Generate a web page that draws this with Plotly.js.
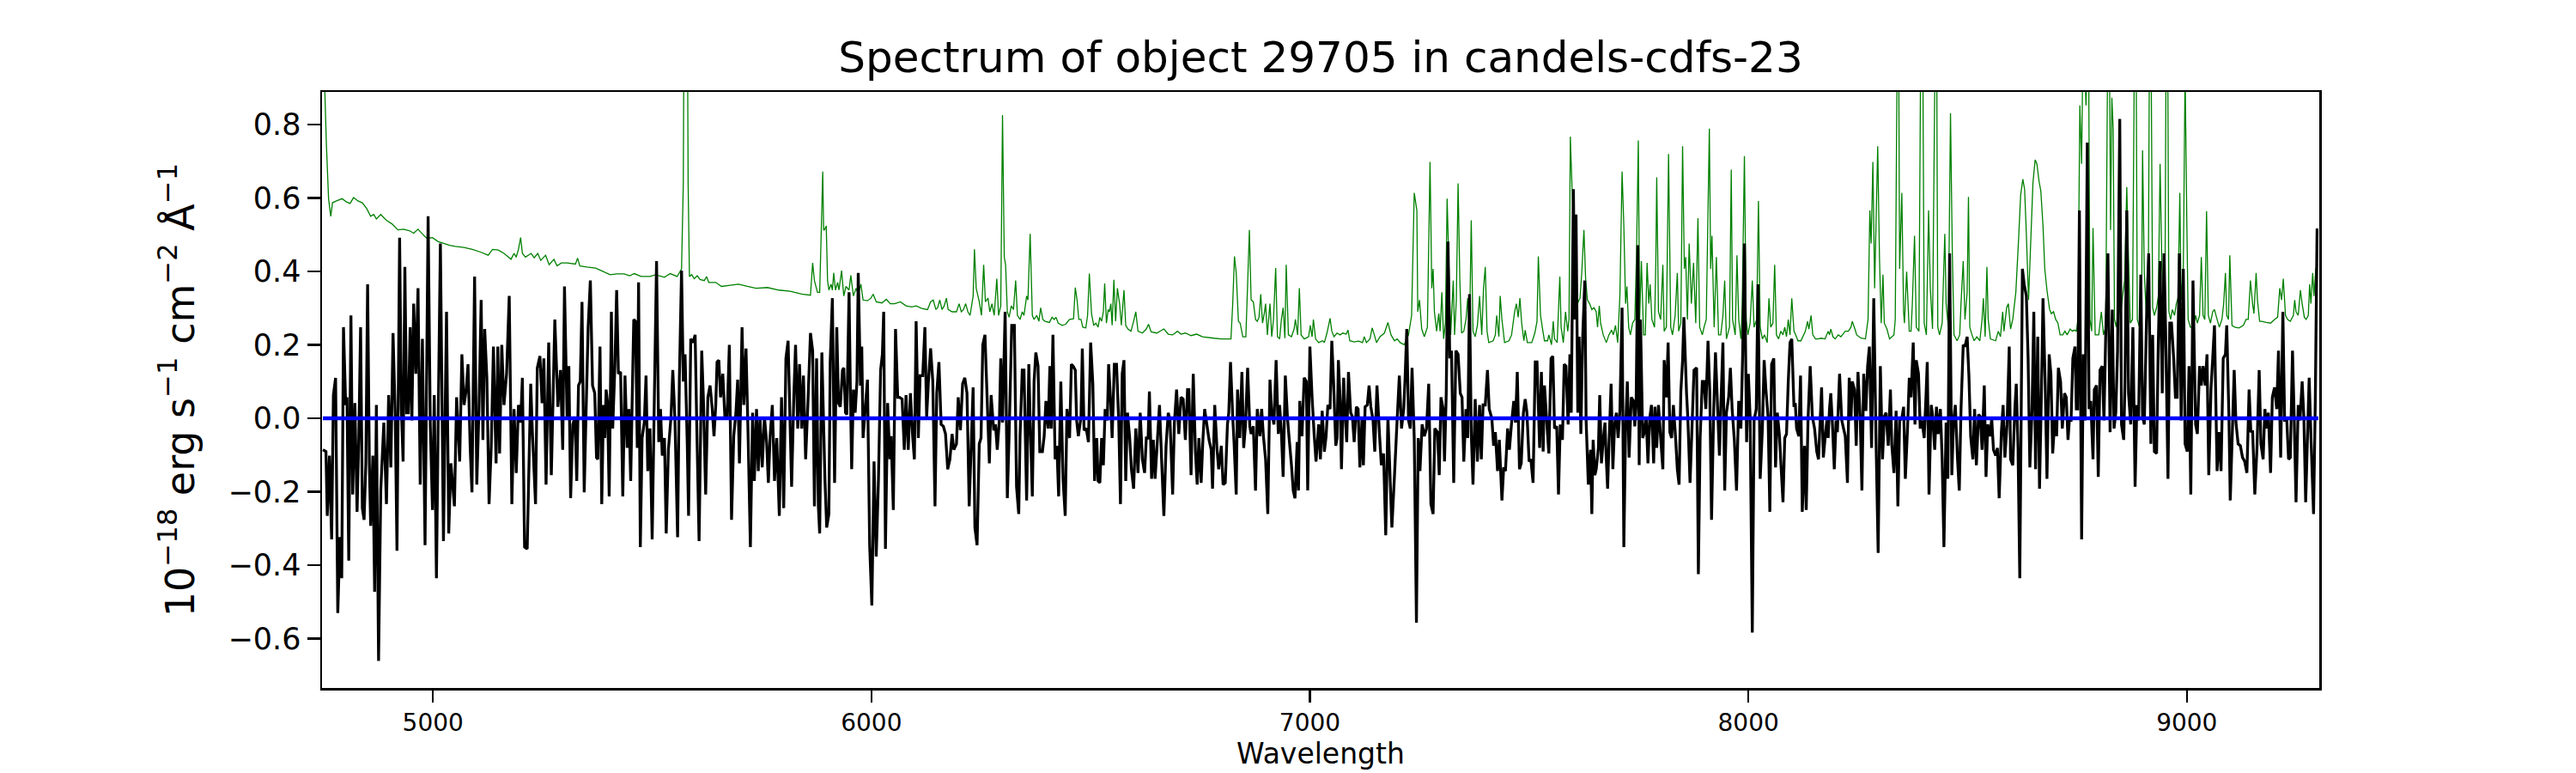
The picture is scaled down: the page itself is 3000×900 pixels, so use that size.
<!DOCTYPE html>
<html>
<head>
<meta charset="utf-8">
<script src="https://cdn.plot.ly/plotly-3.0.1.min.js"></script>
<style>html,body{margin:0;padding:0;background:#fff;}#chart{width:3000px;height:900px;}</style>
</head>
<body>
<div id="chart"></div>
<script>
const fluxWave1 = [4749,4756,4759,4764,4769,4773,4778,4783,4788,4792,4796,4801,4804,4808,4813,4817,4822,4827,4831,4835,4839,4843,4847,4851,4855,4858,4863,4867,4871,4876,4881,4888,4894,4899,4904,4909,4914,4918,4924,4928,4932,4936,4940,4944,4948,4952,4956,4961,4966,4971,4976,4982,4989,4994,4999,5003,5008,5012,5017,5024,5031,5036,5041,5049,5054,5061,5066,5071,5076,5080,5085,5089,5095,5100,5105,5110,5114,5118,5123,5128,5133,5138,5144,5148,5152,5157,5162,5168,5174,5180,5185,5190,5195,5200,5204,5209,5215,5223,5227,5234,5238,5244,5249,5253,5258,5264,5270,5278,5285,5291,5296,5300,5306,5310,5314,5319,5324];
const fluxVal1 = [-0.086,-0.091,-0.266,-0.102,-0.330,0.063,0.110,-0.531,-0.324,-0.436,0.248,0.036,0.057,-0.388,0.280,-0.208,0.041,-0.255,-0.049,0.248,-0.245,-0.277,-0.123,0.365,-0.123,-0.293,-0.102,-0.473,0.036,-0.661,-0.197,-0.012,-0.234,0.063,-0.134,0.232,0.010,-0.361,0.492,0.025,-0.118,0.412,0.015,0.015,0.248,-0.006,0.312,0.121,0.354,-0.181,0.216,-0.346,0.550,-0.022,-0.250,0.063,-0.436,-0.006,0.476,-0.335,0.290,-0.314,-0.123,-0.240,0.057,-0.118,0.174,0.036,0.078,0.147,-0.081,-0.202,0.386,-0.181,0.025,0.322,-0.059,0.243,0.110,-0.234,-0.075,0.195,-0.123,0.195,-0.096,0.200,0.036,0.121,0.333,-0.234,0.025,-0.149,0.036,-0.012,0.110,-0.351,-0.356,0.094,-0.043,-0.234,0.137,0.169,0.041,0.163,-0.181,0.206,-0.155,0.269,0.031,0.131,-0.086,0.359,0.004,0.142,-0.218,-0.017,0.004];

const fluxWave2 = [5328,5332,5336,5340,5345,5349,5354,5359,5364,5369,5373,5376,5381,5385,5389,5392,5395,5398,5402,5407,5410,5415,5419,5423,5428,5433,5438,5443,5447,5451,5454,5458,5462,5466,5469,5473,5477,5482,5486,5490,5495,5500,5505,5510,5515,5519,5523,5528,5532,5537,5543,5547,5552,5558,5562,5567,5571,5575,5580,5583,5588,5593,5598,5602,5607,5613,5617,5622,5627,5632,5637,5641,5645,5648,5652,5656,5661,5666,5671,5676,5681,5686,5691,5695,5699,5705,5709,5714,5719,5724,5729,5733,5738,5742,5746,5751,5756,5761,5765,5769,5774,5779,5784,5790,5795,5800,5805,5810,5814,5818,5823,5827,5832,5836,5841,5845,5850,5855,5861,5866,5870,5875,5879,5882,5887,5894];
const fluxVal2 = [-0.171,0.089,0.100,0.317,-0.202,0.004,0.248,0.375,0.089,0.068,-0.107,-0.112,0.195,-0.234,0.036,-0.054,0.078,0.047,-0.213,0.290,-0.028,0.142,0.349,0.121,0.126,-0.213,0.116,-0.081,0.025,-0.171,0.025,0.269,0.264,-0.081,0.370,-0.351,-0.054,-0.012,0.116,-0.144,-0.028,-0.330,0.057,0.428,-0.065,0.025,-0.102,-0.054,-0.314,-0.086,0.004,0.131,-0.006,-0.324,0.105,0.402,0.100,0.174,-0.070,-0.266,0.216,0.206,0.227,-0.038,-0.335,0.184,0.047,-0.208,0.057,0.089,0.025,-0.049,0.036,0.153,0.158,0.057,0.121,-0.001,0.004,0.200,-0.277,-0.049,0.015,0.105,-0.123,0.248,0.036,0.190,-0.059,-0.351,0.015,-0.171,0.025,-0.144,-0.001,-0.134,0.004,-0.065,-0.176,-0.049,0.036,-0.171,-0.054,-0.266,0.057,-0.245,0.163,0.211,0.015,-0.187,0.057,0.200,-0.028,0.147,-0.028,0.116,-0.112,0.036,0.232,0.184,-0.240,0.163,-0.240,-0.314,0.179,-0.165];

const fluxWave3 = [5898,5903,5906,5911,5916,5921,5925,5929,5934,5937,5941,5944,5949,5952,5955,5959,5963,5967,5970,5975,5978,5981,5986,5991,5996,6001,6006,6011,6016,6021,6025,6028,6032,6037,6042,6045,6050,6055,6060,6064,6070,6075,6079,6084,6089,6094,6098,6102,6107,6111,6117,6122,6126,6130,6135,6140,6145,6149,6154,6159,6164,6169,6174,6179,6184,6188,6194,6198,6203,6208,6213,6218,6223,6228,6232,6236,6241,6246,6250,6254,6259,6264,6269,6273,6279,6283,6287,6292,6295,6299,6305,6310,6314,6320,6326,6331,6336,6339,6344,6348,6354,6359,6362,6367,6371,6375,6380,6384,6390,6394,6398,6403,6407,6410,6414,6419,6423,6427,6432,6437,6442,6446,6452,6456,6460];
const fluxVal3 = [-0.298,-0.261,0.153,0.327,-0.176,0.248,0.041,0.031,0.131,0.137,0.015,0.010,0.343,0.078,-0.139,0.078,0.015,0.100,0.396,0.089,0.195,-0.054,0.025,0.105,-0.346,-0.510,-0.118,-0.377,-0.171,0.131,0.174,0.290,-0.356,0.041,-0.112,-0.049,-0.250,0.243,0.057,0.057,0.052,-0.086,0.063,-0.086,0.068,-0.049,-0.112,0.264,-0.054,0.116,0.116,0.248,0.004,0.100,0.190,0.100,-0.240,0.068,0.153,-0.017,-0.022,-0.043,-0.139,-0.112,-0.043,-0.086,-0.070,0.057,-0.033,0.094,0.110,0.068,-0.240,-0.059,0.084,-0.298,-0.346,-0.070,-0.054,0.200,0.227,0.052,-0.123,0.063,-0.033,-0.017,-0.086,-0.001,0.163,-0.012,0.290,-0.218,-0.049,0.253,0.253,-0.187,-0.261,-0.049,0.131,0.131,-0.224,0.147,-0.006,-0.213,0.100,0.179,0.142,-0.091,-0.091,-0.049,0.047,-0.028,0.142,-0.028,0.227,-0.112,-0.075,-0.213,0.100,-0.165,-0.266,0.025,-0.054,0.147,0.142];

const fluxWave4 = [6465,6468,6472,6478,6481,6485,6490,6495,6500,6505,6509,6514,6517,6521,6525,6529,6533,6538,6541,6546,6549,6554,6559,6564,6568,6572,6576,6580,6584,6589,6593,6598,6603,6608,6613,6618,6623,6627,6631,6634,6639,6643,6647,6652,6657,6662,6667,6672,6677,6681,6687,6691,6696,6701,6706,6711,6716,6721,6724,6729,6734,6739,6743,6747,6752,6756,6760,6765,6770,6775,6778,6783,6788,6792,6798,6802,6807,6812,6815,6819,6824,6827,6832,6835,6840,6845,6849,6853,6858,6863,6866,6871,6876,6880,6886,6890,6894,6899,6904,6909,6913,6918,6923,6928,6931,6935,6939,6944,6949,6953,6958,6962,6966,6971,6974,6977,6982,6987,6992,6995,7000,7005,7010,7014,7020,7024,7028];
const fluxVal4 = [0.131,-0.006,-0.049,0.004,0.190,-0.033,-0.028,-0.065,0.206,0.094,-0.171,-0.054,-0.171,-0.176,-0.054,-0.128,0.025,-0.006,0.147,0.036,-0.054,0.147,0.147,-0.006,-0.234,0.121,0.158,-0.171,0.015,-0.054,-0.139,-0.192,-0.028,-0.149,0.015,-0.112,-0.149,-0.054,-0.054,0.073,-0.165,-0.059,-0.165,-0.065,0.036,-0.118,-0.266,-0.075,0.015,-0.006,-0.208,-0.012,0.078,-0.043,0.057,0.052,-0.059,0.078,0.078,-0.155,0.121,-0.091,-0.181,-0.054,-0.176,-0.059,0.025,-0.017,-0.059,-0.086,-0.192,0.036,-0.081,-0.139,-0.075,-0.181,-0.176,-0.017,0.015,0.153,0.004,-0.065,-0.208,0.078,-0.054,0.126,-0.081,-0.022,0.137,-0.022,-0.043,-0.022,-0.197,0.025,-0.049,0.025,-0.049,-0.112,-0.261,0.105,0.015,-0.017,0.158,-0.043,0.036,-0.038,-0.160,0.116,-0.001,-0.059,-0.128,-0.197,-0.218,-0.065,-0.197,0.047,-0.049,0.110,0.100,-0.197,0.195,0.057,-0.049,-0.118,-0.017,-0.112,0.020];

const fluxWave5 = [7033,7037,7041,7046,7050,7054,7059,7062,7065,7069,7072,7077,7080,7084,7088,7093,7097,7101,7106,7110,7114,7119,7122,7126,7131,7135,7139,7144,7148,7153,7159,7163,7168,7173,7178,7183,7187,7193,7198,7204,7209,7214,7217,7221,7225,7229,7233,7238,7243,7247,7251,7256,7261,7266,7271,7276,7281,7285,7291,7295,7299,7304,7307,7311,7315,7319,7323,7328,7333,7338,7343,7347,7351,7356,7360,7364,7368,7372,7377,7382,7387,7391,7395,7400,7405,7409,7415,7419,7423,7428,7432,7438,7442,7446,7451,7455,7460,7465,7469,7473,7478,7482,7487,7491,7495,7500,7504,7509,7514,7518,7524,7528,7532,7535,7540,7545,7550,7554,7558,7563,7567,7571,7576,7580,7584,7589,7593];
const fluxVal5 = [-0.091,-0.049,0.036,0.025,0.211,0.100,-0.075,-0.054,0.158,0.047,-0.139,0.110,0.025,-0.065,0.126,0.015,0.004,-0.065,0.031,0.025,-0.134,-0.001,-0.128,0.031,0.036,0.089,0.031,-0.006,-0.091,0.089,-0.049,-0.128,-0.096,-0.319,0.004,-0.165,-0.298,-0.155,-0.028,0.116,-0.028,0.025,0.105,0.243,-0.006,-0.028,0.137,-0.054,-0.557,-0.054,-0.144,-0.017,-0.049,-0.028,0.094,-0.234,-0.261,-0.028,-0.038,-0.155,0.057,0.025,-0.118,0.068,0.481,0.163,0.184,-0.176,0.184,0.174,0.068,0.057,-0.118,0.025,-0.054,0.338,-0.038,-0.181,0.052,-0.118,0.036,-0.112,0.036,0.036,0.131,0.025,-0.001,-0.075,-0.038,-0.144,-0.059,-0.224,-0.134,-0.144,-0.028,-0.086,-0.012,0.047,-0.012,0.126,-0.139,-0.123,0.015,0.052,0.015,-0.118,-0.112,-0.176,0.153,0.153,-0.081,0.126,-0.091,0.089,-0.006,-0.096,0.163,0.169,-0.028,-0.022,-0.208,-0.017,-0.059,0.147,0.142,-0.017,0.174];

const fluxWave6 = [7596,7601,7604,7607,7611,7614,7618,7622,7627,7630,7635,7640,7643,7646,7650,7653,7658,7661,7665,7669,7673,7676,7679,7682,7687,7691,7695,7699,7703,7707,7712,7716,7720,7724,7728,7733,7738,7741,7744,7748,7751,7754,7759,7763,7767,7771,7775,7779,7784,7787,7791,7795,7800,7805,7808,7813,7817,7821,7825,7829,7834,7838,7842,7846,7850,7853,7859,7862,7867,7872,7876,7882,7886,7890,7895,7899,7903,7908,7912,7916,7921,7925,7931,7934,7937,7942,7946,7950,7955,7959,7963,7968,7973,7978,7983,7987,7991,7996,8000,8004,8009,8013,8018,8022,8027,8032,8036,8040,8045,8049,8053,8058,8062,8066,8071,8074,8079,8083,8087,8091,8095,8099,8104,8107,8110,8115,8119,8123,8128,8132,8136,8141,8146,8151,8156,8160];
const fluxVal6 = [0.015,0.624,0.269,0.555,0.015,0.222,-0.043,0.216,0.375,-0.006,-0.181,-0.086,-0.261,-0.059,-0.155,-0.139,-0.081,0.063,-0.123,-0.059,-0.012,-0.112,-0.192,-0.075,0.094,-0.139,-0.017,0.015,-0.054,0.020,0.301,-0.351,-0.028,0.100,-0.107,0.057,0.047,-0.022,0.036,0.471,-0.128,0.269,-0.054,-0.038,0.004,-0.123,-0.001,0.036,-0.123,0.031,-0.081,0.036,-0.054,-0.139,0.158,0.057,0.206,-0.038,-0.054,0.036,-0.054,-0.139,-0.181,0.073,0.158,0.275,0.068,-0.001,-0.176,-0.006,0.131,0.137,-0.425,-0.054,0.100,0.100,0.025,0.211,0.073,-0.277,0.025,0.179,-0.006,-0.102,0.025,0.206,-0.197,0.015,0.057,0.137,0.025,-0.059,-0.197,0.047,-0.028,0.174,0.476,-0.065,0.121,0.004,-0.584,-0.006,0.025,0.365,-0.165,-0.028,0.158,0.078,0.004,-0.255,0.147,0.163,-0.134,0.015,-0.049,-0.118,-0.229,-0.054,-0.043,0.100,0.206,0.216,0.031,0.041,-0.028,-0.049,0.116,-0.255,-0.075,-0.250,-0.006,0.142,0.004,-0.028,-0.091,-0.112];

const fluxWave7 = [8167,8171,8175,8179,8182,8185,8188,8192,8196,8200,8203,8208,8213,8216,8221,8226,8230,8234,8237,8242,8246,8250,8255,8259,8263,8268,8272,8276,8281,8286,8291,8296,8301,8306,8310,8314,8319,8324,8327,8332,8337,8341,8345,8350,8354,8358,8363,8367,8371,8376,8380,8383,8388,8392,8396,8401,8405,8408,8412,8417,8420,8425,8429,8433,8438,8442,8446,8451,8455,8459,8464,8468,8472,8477,8481,8485,8490,8494,8499,8503,8507,8512,8516,8520,8525,8529,8533,8538,8542,8546,8551,8555,8559,8564,8568,8572,8577,8581,8585,8590,8595,8598,8603,8608,8611,8615,8619,8625,8629,8634,8638,8642,8647,8651,8655,8660,8664,8668,8672,8677,8681,8686,8690,8694,8699,8703,8707,8712,8716,8721,8725,8729];
const fluxVal7 = [0.084,-0.107,-0.054,-0.006,-0.054,0.025,0.068,-0.022,-0.139,-0.006,-0.038,0.121,-0.006,-0.022,-0.049,-0.176,0.110,-0.006,0.100,0.078,-0.075,0.126,0.004,-0.197,0.121,0.020,0.142,0.195,-0.081,0.327,-0.049,-0.367,0.142,-0.112,0.004,0.015,-0.075,0.078,-0.070,-0.149,0.020,-0.240,-0.006,-0.001,0.031,-0.165,-0.028,0.110,0.057,0.206,-0.017,0.158,0.121,-0.028,-0.006,-0.054,0.057,0.153,-0.208,0.036,0.010,-0.086,0.031,-0.043,0.025,-0.112,-0.351,-0.012,-0.165,0.449,-0.155,-0.006,0.036,-0.112,-0.197,0.025,0.200,0.195,0.222,0.116,-0.049,-0.112,0.025,-0.128,0.010,0.004,-0.086,0.089,-0.160,-0.017,-0.049,-0.001,-0.086,-0.102,-0.081,-0.218,-0.038,0.036,-0.107,-0.017,0.195,-0.112,-0.128,0.031,0.094,-0.081,-0.436,0.407,0.365,0.333,0.163,-0.134,0.025,0.290,-0.139,0.222,-0.192,0.047,0.327,0.089,-0.165,0.174,0.121,-0.096,-0.001,-0.049,0.137,0.100,-0.028,0.068,0.057,-0.059];

const fluxWave8 = [8732,8736,8740,8745,8748,8751,8755,8760,8764,8768,8773,8777,8781,8786,8789,8794,8798,8802,8807,8811,8815,8820,8825,8830,8834,8838,8842,8847,8851,8856,8859,8863,8867,8872,8877,8882,8886,8890,8895,8899,8903,8908,8913,8918,8922,8926,8931,8935,8939,8944,8948,8952,8957,8961,8965,8970,8974,8978,8983,8987,8992,8996,9001,9005,9009,9014,9020,9024,9029,9033,9037,9042,9046,9050,9055,9059,9063,9069,9073,9078,9083,9088,9091,9096,9099,9104,9108,9112,9117,9122,9127,9132,9137,9142,9146,9150,9155,9160,9165,9169,9174,9178,9182,9186,9191,9195,9200,9205,9209,9214,9219,9223,9228,9232,9236,9241,9245,9249,9254,9258,9263,9267,9271,9276,9279,9283,9289,9293,9297,9300];
const fluxVal8 = [-0.006,-0.006,0.163,0.195,0.025,0.025,0.566,-0.330,0.174,-0.006,0.751,0.025,0.047,-0.112,0.078,0.089,-0.160,0.131,0.142,-0.006,0.227,0.449,-0.038,0.296,-0.028,0.015,0.184,0.815,-0.017,-0.059,0.100,0.566,0.068,-0.017,0.248,-0.187,0.036,-0.006,0.391,0.004,-0.017,0.269,0.449,-0.070,0.227,-0.091,-0.096,0.206,0.428,0.068,0.449,0.216,-0.165,0.259,0.259,0.163,0.057,0.057,0.449,-0.006,0.407,-0.070,-0.091,0.142,-0.208,0.375,-0.017,-0.043,0.142,0.089,0.142,0.089,0.174,-0.155,0.078,0.163,0.253,-0.144,-0.038,-0.144,0.163,0.174,0.253,0.004,-0.224,-0.028,0.131,-0.012,-0.070,-0.075,-0.107,-0.118,-0.149,0.078,-0.038,-0.033,-0.208,-0.081,0.131,-0.070,-0.112,0.025,-0.028,0.015,-0.149,0.057,0.084,0.025,0.184,-0.107,0.290,-0.006,-0.006,-0.112,-0.107,0.184,-0.006,-0.229,0.036,-0.006,0.100,-0.001,-0.229,-0.017,0.110,-0.049,-0.261,0.047,0.513,0.513];

// ---- green spectrum (thin line) ----
const errWave1 = [4749,4752,4757,4762,4767,4771,4780,4793,4803,4811,4819,4829,4839,4849,4858,4865,4871,4881,4894,4907,4920,4933,4946,4956,4966,4976,4986,4999,5012,5025,5038,5051,5071,5090,5110,5126,5136,5149,5162,5172,5178,5185,5190,5195,5200,5204,5211,5224,5231,5239,5246,5257,5265,5276,5283,5293,5306,5325];
const errVal1 = [1.0,0.95,0.746,0.598,0.550,0.587,0.592,0.598,0.589,0.585,0.601,0.592,0.587,0.571,0.550,0.555,0.543,0.555,0.539,0.529,0.513,0.515,0.511,0.504,0.515,0.502,0.490,0.492,0.481,0.476,0.471,0.468,0.465,0.460,0.452,0.444,0.460,0.458,0.449,0.439,0.433,0.449,0.439,0.460,0.492,0.449,0.439,0.449,0.437,0.449,0.430,0.444,0.418,0.433,0.415,0.423,0.423,0.420];

const errWave2 = [5330,5335,5351,5371,5384,5404,5420,5436,5449,5459,5475,5495,5508,5528,5541,5557,5567,5571,5573,5580,5582,5585,5590,5596,5603,5609,5619,5624,5629,5645,5658,5678,5697,5717,5737,5763,5789,5815,5841,5861,5866,5870,5877,5882,5885,5889,5891];
const errVal2 = [0.436,0.415,0.412,0.409,0.402,0.391,0.393,0.393,0.388,0.394,0.386,0.386,0.391,0.384,0.394,0.386,0.407,0.640,1.2,1.2,0.640,0.386,0.391,0.380,0.388,0.378,0.375,0.386,0.370,0.370,0.359,0.362,0.365,0.359,0.354,0.356,0.349,0.346,0.338,0.335,0.423,0.375,0.343,0.343,0.481,0.672,0.513];

const errWave3 = [5893,5897,5900,5903,5908,5911,5914,5918,5923,5926,5932,5937,5942,5949,5953,5959,5965,5970,5976,5981,5991,5999,6004,6011,6024,6034,6043,6053,6066,6079,6092,6102,6115,6128,6135,6141,6147,6151,6156,6161,6166,6171,6175,6184,6194,6200,6205,6210,6215,6220,6225,6232,6235,6239,6246,6251,6256,6260,6266,6270,6275,6280,6286,6290,6295,6299,6303,6306,6310,6314,6319,6324,6329,6333,6339,6344,6348,6354,6357,6362,6367,6371,6377,6382,6386,6391,6396,6406,6412,6417,6421,6426,6435,6443,6452,6461];
const errVal3 = [0.513,0.524,0.375,0.349,0.365,0.349,0.396,0.349,0.370,0.349,0.402,0.333,0.359,0.349,0.389,0.333,0.354,0.338,0.365,0.322,0.320,0.327,0.338,0.317,0.314,0.324,0.312,0.312,0.317,0.306,0.303,0.306,0.299,0.296,0.317,0.322,0.296,0.301,0.322,0.296,0.306,0.327,0.296,0.290,0.290,0.312,0.290,0.296,0.312,0.290,0.280,0.333,0.460,0.354,0.317,0.280,0.418,0.317,0.327,0.290,0.312,0.280,0.380,0.280,0.306,0.826,0.439,0.418,0.290,0.275,0.306,0.296,0.375,0.280,0.269,0.290,0.280,0.333,0.322,0.502,0.280,0.269,0.280,0.264,0.301,0.269,0.264,0.261,0.275,0.269,0.275,0.259,0.253,0.256,0.269,0.271];

const errWave4 = [6465,6469,6473,6478,6482,6489,6493,6497,6502,6507,6512,6517,6521,6525,6529,6532,6536,6540,6543,6546,6549,6553,6557,6561,6566,6570,6576,6580,6585,6592,6598,6603,6608,6618,6627,6632,6638,6651,6667,6677,6687,6698,6706,6716,6729,6742,6755,6781,6798,6820,6824,6828,6832,6837,6841,6847,6854,6858,6862,6866,6871,6876,6880,6884,6888,6892,6896,6899,6903,6909,6913,6917,6922,6926,6931,6935,6939,6943,6946,6951,6958,6964,6967,6972,6976,6980,6987,6997,7001,7005,7008,7013,7020,7029];
const errVal4 = [0.356,0.322,0.269,0.269,0.248,0.246,0.280,0.394,0.285,0.253,0.259,0.248,0.275,0.264,0.290,0.367,0.259,0.296,0.290,0.312,0.253,0.377,0.264,0.354,0.312,0.253,0.349,0.253,0.243,0.237,0.264,0.290,0.237,0.232,0.243,0.256,0.235,0.232,0.243,0.229,0.227,0.237,0.229,0.232,0.225,0.229,0.222,0.218,0.216,0.216,0.312,0.441,0.396,0.264,0.259,0.222,0.222,0.365,0.513,0.322,0.317,0.269,0.264,0.275,0.338,0.259,0.285,0.312,0.227,0.312,0.222,0.269,0.409,0.222,0.216,0.269,0.301,0.218,0.418,0.227,0.222,0.243,0.269,0.227,0.354,0.227,0.216,0.222,0.253,0.222,0.269,0.216,0.206,0.211];

const errWave5 = [7033,7039,7046,7050,7055,7062,7069,7075,7083,7087,7091,7101,7111,7120,7124,7129,7137,7142,7147,7152,7160,7170,7178,7185,7193,7199,7206,7215,7225,7232,7238,7244,7246,7250,7255,7261,7268,7274,7278,7281,7284,7289,7294,7297,7301,7305,7309,7313,7317,7321,7327,7330,7334,7338,7342,7346,7351,7356,7360,7364,7368,7372,7377,7382,7387,7392,7396,7400,7404,7408,7418,7423,7426,7431,7434,7438,7444,7454,7460,7467,7471,7475,7479,7483,7488,7491,7496,7506,7513,7518,7521,7526,7530,7535,7542,7545,7551,7555,7558,7564,7570,7573,7578,7583,7588,7591,7594];
const errVal5 = [0.206,0.232,0.272,0.237,0.222,0.232,0.227,0.232,0.229,0.240,0.211,0.208,0.210,0.206,0.222,0.206,0.216,0.246,0.227,0.206,0.222,0.232,0.261,0.227,0.211,0.216,0.206,0.200,0.227,0.280,0.614,0.566,0.290,0.322,0.243,0.222,0.248,0.698,0.354,0.407,0.290,0.237,0.285,0.237,0.343,0.216,0.259,0.598,0.418,0.227,0.375,0.227,0.322,0.640,0.375,0.232,0.237,0.269,0.327,0.227,0.539,0.237,0.222,0.253,0.333,0.227,0.354,0.412,0.237,0.206,0.211,0.227,0.280,0.222,0.333,0.269,0.206,0.211,0.227,0.290,0.312,0.275,0.327,0.259,0.211,0.240,0.206,0.206,0.232,0.264,0.441,0.280,0.248,0.211,0.211,0.227,0.200,0.264,0.216,0.206,0.386,0.248,0.206,0.290,0.237,0.269,0.767];

const errWave6 = [7599,7603,7607,7612,7616,7620,7625,7629,7633,7638,7643,7648,7653,7656,7660,7663,7669,7676,7682,7688,7692,7697,7702,7707,7712,7716,7720,7723,7727,7731,7736,7741,7745,7749,7752,7756,7761,7765,7769,7773,7776,7780,7786,7789,7791,7795,7800,7805,7808,7813,7818,7823,7827,7833,7838,7841,7846,7850,7854,7857,7861,7865,7870,7875,7880,7885,7889,7895,7899,7904,7911,7914,7917,7922,7927,7932,7937,7942,7946,7950,7957,7961,7964,7970,7974,7978,7983,7986,7991,7995,7999,8004,8009,8013,8019,8023,8027,8032,8037,8043,8047,8051,8056,8060,8064,8069,8074,8079,8083,8087,8091,8095,8099,8104,8108,8113,8120,8130,8135,8138,8143,8147,8153,8159,8166];
const errVal6 = [0.587,0.354,0.301,0.317,0.327,0.396,0.513,0.375,0.322,0.312,0.296,0.301,0.290,0.248,0.306,0.259,0.227,0.206,0.227,0.240,0.227,0.253,0.206,0.333,0.672,0.524,0.312,0.359,0.248,0.227,0.259,0.269,0.449,0.757,0.269,0.428,0.227,0.227,0.423,0.312,0.365,0.269,0.248,0.428,0.656,0.290,0.269,0.418,0.237,0.248,0.720,0.248,0.227,0.280,0.396,0.237,0.259,0.741,0.407,0.439,0.269,0.476,0.312,0.423,0.259,0.545,0.248,0.227,0.248,0.269,0.789,0.407,0.497,0.248,0.439,0.227,0.227,0.280,0.375,0.216,0.248,0.677,0.269,0.227,0.444,0.269,0.216,0.312,0.714,0.269,0.227,0.259,0.375,0.248,0.269,0.592,0.248,0.216,0.227,0.206,0.327,0.248,0.259,0.418,0.227,0.216,0.237,0.227,0.248,0.222,0.269,0.227,0.327,0.237,0.227,0.211,0.211,0.237,0.264,0.243,0.280,0.227,0.216,0.216,0.218];

const errWave7 = [8175,8182,8185,8188,8193,8198,8205,8211,8221,8228,8234,8237,8243,8247,8257,8267,8273,8277,8280,8284,8288,8295,8299,8303,8307,8310,8316,8322,8332,8335,8340,8343,8345,8350,8354,8356,8361,8367,8371,8374,8379,8383,8389,8394,8397,8401,8406,8411,8415,8420,8427,8429,8432,8436,8442,8448,8451,8456,8461,8465,8469,8476,8482,8485,8490,8494,8499,8502,8505,8510,8515,8521,8528,8533,8536,8540,8544,8547,8552,8564,8570,8575,8580,8583,8589,8593,8598,8603,8610,8616,8621,8626,8630,8634,8639,8644,8649,8654,8658,8663,8667,8672,8676,8681,8687,8691,8696,8701,8706,8711,8717,8722,8727,8734];
const errVal7 = [0.216,0.237,0.227,0.243,0.222,0.216,0.227,0.222,0.237,0.237,0.248,0.264,0.243,0.227,0.218,0.216,0.269,0.566,0.476,0.698,0.354,0.741,0.439,0.259,0.391,0.259,0.243,0.216,0.227,0.269,1.1,0.95,0.407,0.614,0.290,0.259,0.399,0.237,0.237,0.312,0.497,0.248,0.237,1.2,1.2,0.259,0.227,0.566,0.354,0.243,1.15,1.15,0.248,0.227,0.259,0.502,0.312,0.248,0.831,0.460,0.227,0.211,0.227,0.312,0.428,0.269,0.343,0.603,0.248,0.227,0.211,0.222,0.211,0.269,0.327,0.222,0.412,0.269,0.216,0.211,0.237,0.222,0.290,0.237,0.301,0.312,0.243,0.269,0.343,0.481,0.608,0.651,0.624,0.502,0.322,0.481,0.640,0.704,0.693,0.645,0.619,0.524,0.407,0.349,0.296,0.285,0.290,0.269,0.259,0.227,0.227,0.237,0.227,0.243];

const errWave8 = [8739,8743,8748,8752,8754,8756,8760,8763,8766,8770,8773,8776,8779,8783,8786,8791,8799,8805,8810,8815,8820,8823,8826,8829,8832,8835,8839,8845,8849,8852,8858,8863,8866,8871,8876,8881,8884,8887,8892,8897,8899,8903,8908,8912,8915,8918,8922,8926,8931,8935,8939,8943,8947,8950,8953,8956,8959,8963,8967,8972,8976,8980,8984,8987,8992,8996,9000,9003,9008,9014,9020,9024,9029,9033,9037,9041,9045,9049,9054,9059,9063,9069,9074,9080,9084,9088,9091,9095,9098,9103,9109,9119,9129,9135,9140,9145,9150,9153,9158,9161,9166,9171,9181,9191,9200,9207,9212,9216,9220,9225,9230,9236,9243,9246,9249,9254,9259,9263,9268,9272,9277,9280,9283,9287,9290,9294,9298];
const errVal8 = [0.237,0.240,0.237,0.269,0.587,0.852,0.693,1.0,1.0,0.852,1.0,1.0,0.269,0.237,0.518,0.227,0.227,0.290,0.227,0.248,1.1,1.1,0.513,0.873,0.789,0.269,0.248,0.312,0.280,0.317,0.375,0.630,0.481,0.259,0.269,1.1,1.1,0.269,0.248,0.322,0.730,0.396,0.269,0.317,1.1,1.1,0.301,0.280,0.301,0.333,0.693,0.418,0.301,0.317,1.1,1.1,0.290,0.269,0.296,0.280,0.312,0.327,0.614,0.322,0.407,0.95,0.534,0.269,0.248,0.248,0.280,0.259,0.280,0.439,0.280,0.269,0.564,0.280,0.259,0.290,0.296,0.269,0.248,0.269,0.312,0.396,0.280,0.269,0.444,0.253,0.248,0.246,0.253,0.269,0.269,0.375,0.312,0.285,0.396,0.322,0.264,0.264,0.261,0.259,0.269,0.275,0.354,0.322,0.380,0.280,0.269,0.264,0.280,0.322,0.290,0.280,0.349,0.312,0.275,0.269,0.280,0.365,0.312,0.396,0.333,0.407,0.418];

// ---- zero model line (blue) ----
const modelWave = [4749, 9300];
const modelVal = [0, 0];

// ---- axes ----
const xTick0 = 5000, xDtick = 1000;
const yTick0 = -0.6, yDtick = 0.2;
const xRange = [4747, 9302];
const yRange = [-0.735, 0.889];

const fluxWave = [].concat(fluxWave1, fluxWave2, fluxWave3, fluxWave4, fluxWave5, fluxWave6, fluxWave7, fluxWave8);
const fluxVal = [].concat(fluxVal1, fluxVal2, fluxVal3, fluxVal4, fluxVal5, fluxVal6, fluxVal7, fluxVal8);
const errWave = [].concat(errWave1, errWave2, errWave3, errWave4, errWave5, errWave6, errWave7, errWave8);
const errVal = [].concat(errVal1, errVal2, errVal3, errVal4, errVal5, errVal6, errVal7, errVal8);

const FONT = 'DejaVu Sans, Liberation Sans, sans-serif';

const traces = [
  {x: errWave, y: errVal, type: 'scatter', mode: 'lines', line: {color: '#008000', width: 1.3, simplify: false}, hoverinfo: 'skip'},
  {x: fluxWave, y: fluxVal, type: 'scatter', mode: 'lines', line: {color: '#000000', width: 3.3, simplify: false}, hoverinfo: 'skip'},
  {x: modelWave, y: modelVal, type: 'scatter', mode: 'lines', line: {color: '#0000ff', width: 4.5}, hoverinfo: 'skip'}
];

const layout = {
  width: 3000, height: 900,
  margin: {l: 375, r: 299, t: 107, b: 99, pad: 0},
  paper_bgcolor: '#ffffff', plot_bgcolor: '#ffffff',
  showlegend: false,
  font: {family: FONT, color: '#000000', size: 28},
  title: {
    text: 'Spectrum of object 29705 in candels-cdfs-23',
    font: {family: FONT, size: 50, color: '#000000'},
    x: 0.5, xref: 'paper', xanchor: 'center',
    y: 1 - 66 / 900, yref: 'container', yanchor: 'middle'
  },
  xaxis: {
    range: xRange, autorange: false,
    tickmode: 'linear', tick0: xTick0, dtick: xDtick, tickformat: 'd',
    ticks: 'outside', ticklen: 14, tickwidth: 2.5, tickcolor: '#000000',
    showline: true, linecolor: '#000000', linewidth: 2.5, mirror: true,
    showgrid: false, zeroline: false,
    tickfont: {family: FONT, size: 28, color: '#000000'},
    title: {text: 'Wavelength', font: {family: FONT, size: 33, color: '#000000'}, standoff: 4},
    automargin: false
  },
  yaxis: {
    range: yRange, autorange: false,
    tickmode: 'linear', tick0: yTick0, dtick: yDtick, tickformat: '.1f',
    ticks: 'outside', ticklen: 15, tickwidth: 2.5, tickcolor: '#000000',
    showline: true, linecolor: '#000000', linewidth: 2.5, mirror: true,
    showgrid: false, zeroline: false,
    tickfont: {family: FONT, size: 35, color: '#000000'},
    title: {text: '10<sup>\u221218</sup> erg s<sup>\u22121</sup> cm<sup>\u22122</sup> \u00c5<sup>\u22121</sup>', font: {family: FONT, size: 46, color: '#000000'}, standoff: 25},
    automargin: false
  }
};

Plotly.newPlot('chart', traces, layout, {displayModeBar: false, staticPlot: true, responsive: false});
</script>
</body>
</html>
